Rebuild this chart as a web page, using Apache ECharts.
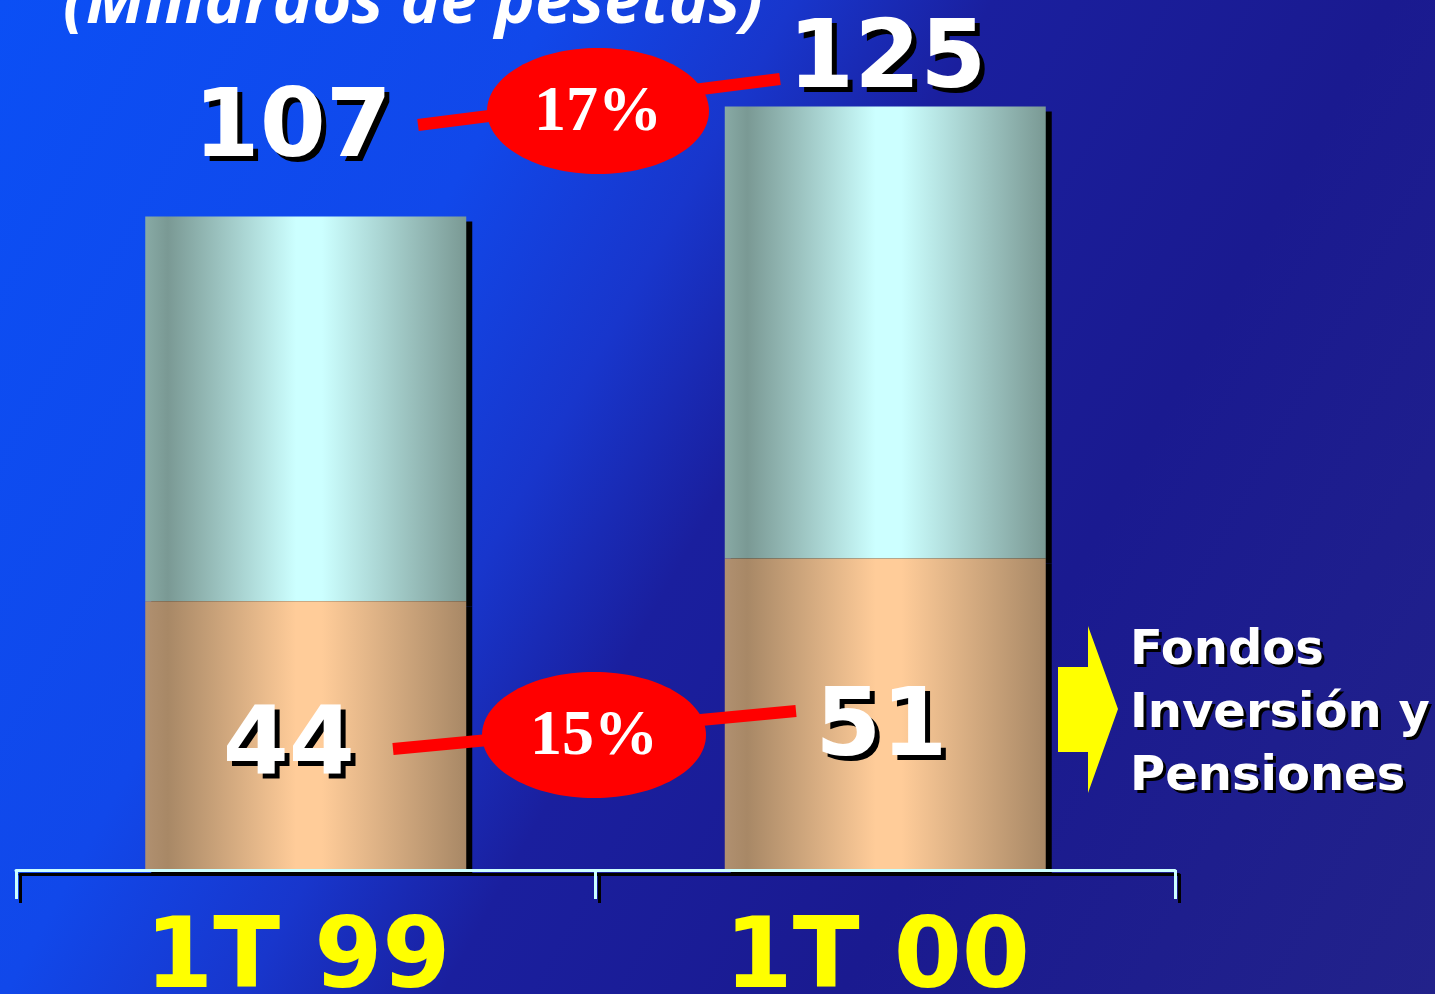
<!DOCTYPE html>
<html>
<head>
<meta charset="utf-8">
<script src="https://cdn.jsdelivr.net/npm/echarts@6/dist/echarts.min.js"></script>
<style>
  html, body { margin: 0; padding: 0; }
  #chart {
    width: 1435px; height: 994px;
    background: linear-gradient(119deg, #0b4ff5 0%, #1148ea 28%, #1836cc 40%, #1a1f9e 50%, #1a1a90 70%, #22228a 100%);
  }
</style>
</head>
<body>
<div id="chart"></div>
<script>
// ---- data ----
const categories = ['1T 99', '1T 00'];
const fondosInversion = [44, 51];   // lower segment
const resto = [63, 74];             // upper segment
const totals = [107, 125];
const growthLabels = ['17%', '15%'];
const titleText = '(Millardos de pesetas)';
const legendText = 'Fondos\nInversión y\nPensiones';

const chart = echarts.init(document.getElementById('chart'), null, { renderer: 'canvas' });

const sans = '"DejaVu Sans", Verdana, sans-serif';
const cyanGrad = new echarts.graphic.LinearGradient(0, 0, 1, 0, [
  { offset: 0, color: '#88aaa5' },
  { offset: 0.07, color: '#7a9994' },
  { offset: 0.47, color: '#ccffff' },
  { offset: 0.55, color: '#ccffff' },
  { offset: 1, color: '#7a9994' }
]);
const tanGrad = new echarts.graphic.LinearGradient(0, 0, 1, 0, [
  { offset: 0, color: '#b09070' },
  { offset: 0.07, color: '#a88866' },
  { offset: 0.47, color: '#ffcc99' },
  { offset: 0.55, color: '#ffcc99' },
  { offset: 1, color: '#a88866' }
]);

const valueLabel = {
  show: true,
  color: '#ffffff',
  fontFamily: sans,
  fontWeight: 'bold',
  fontSize: 95,
  lineHeight: 95,
  textShadowColor: '#000000',
  textShadowOffsetX: 5,
  textShadowOffsetY: 5,
  textShadowBlur: 0.5
};

const topOffsets = [[-13, -19], [2, 22]];
const bottomOffsets = [[-17, 9], [-4, -10]];

const option = {
  animation: false,
  backgroundColor: 'transparent',
  grid: { left: 16, right: 260, top: 76, bottom: 124, containLabel: false, outerBoundsMode: 'none' },
  xAxis: {
    type: 'category',
    data: categories,
    axisLine: { lineStyle: { color: '#ccffff', width: 3, shadowColor: '#000', shadowOffsetX: 4, shadowOffsetY: 4, shadowBlur: 0 } },
    axisTick: { show: true, length: 29, lineStyle: { color: '#ccffff', width: 3, shadowColor: '#000', shadowOffsetX: 4, shadowOffsetY: 4, shadowBlur: 0 } },
    axisLabel: {
      color: '#ffff00', fontFamily: sans, fontWeight: 'bold', fontSize: 98, lineHeight: 98,
      margin: 43, padding: [0, 16, 0, 0]
    },
    z: 5
  },
  yAxis: { type: 'value', min: 0, max: 130, show: false, splitLine: { show: false } },
  series: [
    {
      type: 'bar',
      stack: 'total',
      barWidth: 321,
      z: 3,
      itemStyle: { color: tanGrad, borderWidth: 0, shadowColor: '#000', shadowOffsetX: 6, shadowOffsetY: 5, shadowBlur: 0 },
      data: fondosInversion.map((v, i) => ({
        value: v,
        label: Object.assign({}, valueLabel, { position: 'insideBottom', distance: 82, offset: bottomOffsets[i] })
      }))
    },
    {
      type: 'bar',
      stack: 'total',
      barWidth: 321,
      z: 2,
      itemStyle: { color: cyanGrad, borderWidth: 0, shadowColor: '#000', shadowOffsetX: 6, shadowOffsetY: 5, shadowBlur: 0 },
      data: resto.map((v, i) => ({
        value: v,
        label: Object.assign({}, valueLabel, {
          position: 'top', distance: 19, offset: topOffsets[i],
          formatter: () => String(totals[i])
        })
      }))
    }
  ],
  graphic: [
    {
      type: 'text', z: 10,
      style: {
        text: titleText, x: 413, y: 4, align: 'center', verticalAlign: 'middle',
        fill: '#ffffff', fontFamily: '"Open Sans", sans-serif', fontStyle: 'italic', fontWeight: 'bold', fontSize: 67
      }
    },
    // growth annotation top
    { type: 'line', z: 10, shape: { x1: 418, y1: 125, x2: 780, y2: 79 }, style: { stroke: '#ff0000', lineWidth: 12 } },
    { type: 'ellipse', z: 11, shape: { cx: 598, cy: 111, rx: 111, ry: 63 }, style: { fill: '#ff0000' } },
    {
      type: 'text', z: 12,
      style: { text: growthLabels[0], x: 598, y: 113, align: 'center', verticalAlign: 'middle',
        fill: '#ffffff', fontFamily: '"Liberation Serif", "Times New Roman", serif', fontWeight: 'bold', fontSize: 64 }
    },
    // growth annotation bottom
    { type: 'line', z: 10, shape: { x1: 393, y1: 749, x2: 796, y2: 711 }, style: { stroke: '#ff0000', lineWidth: 12 } },
    { type: 'ellipse', z: 11, shape: { cx: 594, cy: 735, rx: 112, ry: 63 }, style: { fill: '#ff0000' } },
    {
      type: 'text', z: 12,
      style: { text: growthLabels[1], x: 594, y: 737, align: 'center', verticalAlign: 'middle',
        fill: '#ffffff', fontFamily: '"Liberation Serif", "Times New Roman", serif', fontWeight: 'bold', fontSize: 64 }
    },
    // legend arrow
    {
      type: 'polygon', z: 10,
      shape: { points: [[1058, 667], [1088, 667], [1088, 626], [1118, 709], [1088, 793], [1088, 752], [1058, 752]] },
      style: { fill: '#ffff00' }
    },
    {
      type: 'text', z: 10,
      style: {
        text: legendText, x: 1130, y: 620, align: 'left', verticalAlign: 'top',
        fill: '#ffffff', fontFamily: sans, fontWeight: 'bold', fontSize: 48, lineHeight: 63,
        textShadowColor: '#000', textShadowOffsetX: 3, textShadowOffsetY: 3, textShadowBlur: 0.5
      }
    }
  ]
};
chart.setOption(option);
</script>
</body>
</html>
